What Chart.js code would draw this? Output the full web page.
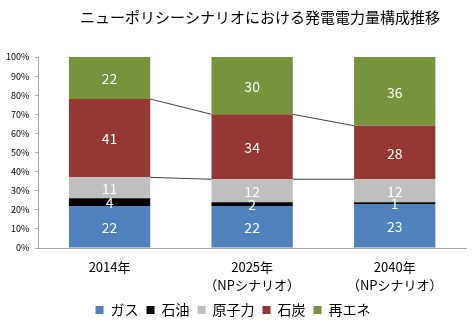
<!DOCTYPE html>
<html>
<head>
<meta charset="utf-8">
<script src="https://cdn.jsdelivr.net/npm/chart.js@4"></script>
<style>
  body { margin: 0; background: #fff; }
  #wrap { width: 474px; height: 327px; }
</style>
</head>
<body>
<div id="wrap"><canvas id="mixChart"></canvas></div>
<script>
const chartTitle = 'ニューポリシーシナリオにおける発電電力量構成推移';
const categories = [['2014年'], ['2025年', '（NPシナリオ）'], ['2040年', '（NPシナリオ）']];
const seriesNames = ['ガス', '石油', '原子力', '石炭', '再エネ'];
const gas = [22, 22, 23];
const oil = [4, 2, 1];
const nuclear = [11, 12, 12];
const coal = [41, 34, 28];
const renewables = [22, 30, 36];
const yTicks = [0, 10, 20, 30, 40, 50, 60, 70, 80, 90, 100];

const colors = ['#4F81BD', '#000000', '#BFBFBF', '#953735', '#77933C'];
const seriesValues = [gas, oil, nuclear, coal, renewables];
const jpFont = '"Noto Sans CJK JP", sans-serif';

// title, value labels and connector lines
const extras = {
    id: 'extras',
    afterDatasetsDraw(chart) {
        const ctx = chart.ctx;
        const y = chart.scales.y;
        ctx.save();

        // connector lines at top of 原子力 and top of 石炭
        ctx.strokeStyle = '#404040';
        ctx.lineWidth = 1;
        [2, 3].forEach(d => {
            const meta = chart.getDatasetMeta(d);
            for (let i = 0; i < categories.length - 1; i++) {
                let c1 = 0, c2 = 0;
                for (let k = 0; k <= d; k++) {
                    c1 += seriesValues[k][i];
                    c2 += seriesValues[k][i + 1];
                }
                const b1 = meta.data[i], b2 = meta.data[i + 1];
                ctx.beginPath();
                ctx.moveTo(b1.x + b1.width / 2, y.getPixelForValue(c1));
                ctx.lineTo(b2.x - b2.width / 2, y.getPixelForValue(c2));
                ctx.stroke();
            }
        });

        // value labels
        ctx.fillStyle = '#ffffff';
        ctx.font = '14px ' + jpFont;
        ctx.textAlign = 'center';
        ctx.textBaseline = 'middle';
        chart.data.datasets.forEach((ds, d) => {
            const meta = chart.getDatasetMeta(d);
            meta.data.forEach((bar, i) => {
                const mid = (bar.y + bar.base) / 2;
                ctx.fillText(String(ds.data[i]), bar.x, mid + 1);
            });
        });

        ctx.restore();
    },
    afterDraw(chart) {
        const ctx = chart.ctx;
        ctx.save();
        ctx.fillStyle = '#000';
        ctx.font = '15px ' + jpFont;
        ctx.textAlign = 'center';
        ctx.textBaseline = 'middle';
        ctx.fillText(chartTitle, 260, 17);
        ctx.restore();
    }
};

const ctx = document.getElementById('mixChart').getContext('2d');
new Chart(ctx, {
    type: 'bar',
    data: {
        labels: categories,
        datasets: seriesNames.map((name, i) => ({
            label: name,
            data: seriesValues[i],
            backgroundColor: colors[i],
            borderWidth: 0,
            categoryPercentage: 1,
            barPercentage: 0.57
        }))
    },
    options: {
        responsive: true,
        maintainAspectRatio: false,
        animation: false,
        layout: { padding: { top: 57, right: 8, left: 0, bottom: 0 } },
        plugins: {
            title: { display: false },
            tooltip: { enabled: false },
            legend: {
                position: 'bottom',
                labels: {
                    boxWidth: 8,
                    boxHeight: 8,
                    padding: 8,
                    color: '#000',
                    font: { size: 14, family: jpFont }
                }
            }
        },
        scales: {
            x: {
                stacked: true,
                grid: { display: false },
                border: { color: '#A6A6A6' },
                afterFit(axis) {
                    axis.height = 47;
                },
                ticks: {
                    color: '#000',
                    padding: 2,
                    font: { size: 13, family: jpFont, lineHeight: 1.4 }
                }
            },
            y: {
                stacked: true,
                min: 0,
                max: 100,
                afterBuildTicks(axis) {
                    axis.ticks = yTicks.map(v => ({ value: v }));
                },
                grid: { display: true, drawOnChartArea: false, tickLength: 3, color: '#A6A6A6' },
                border: { color: '#A6A6A6' },
                ticks: {
                    color: '#000',
                    padding: 6,
                    font: { size: 9, family: jpFont },
                    callback: v => v + '%'
                }
            }
        }
    },
    plugins: [extras]
});
</script>
</body>
</html>
